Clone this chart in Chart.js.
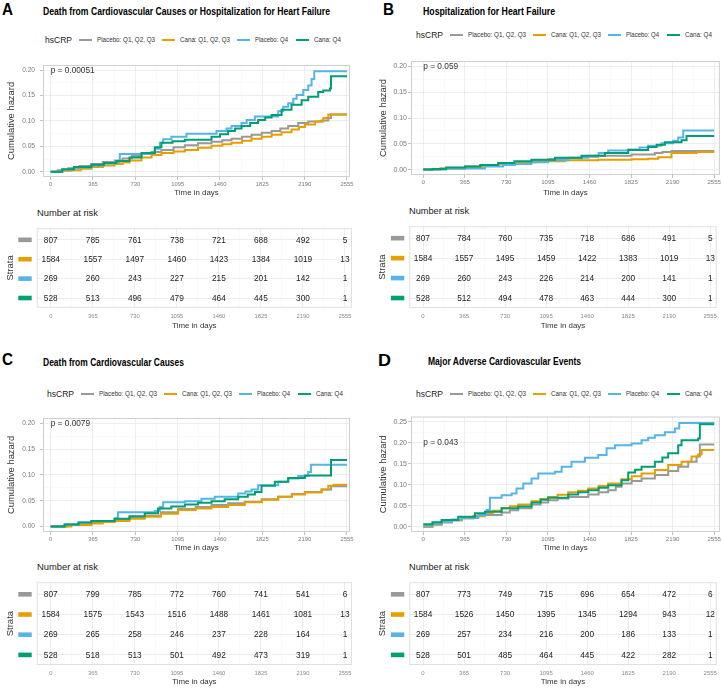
<!DOCTYPE html>
<html>
<head>
<meta charset="utf-8">
<script src="https://cdn.jsdelivr.net/npm/chart.js@4.4.1/dist/chart.umd.min.js"></script>
<style>
    html, body { margin: 0; padding: 0; background: #fff; }
    #fig { position: relative; width: 722px; height: 689px; overflow: hidden; font-family: "Liberation Sans", Arial, sans-serif; }
    #fig canvas { position: absolute; }
    .txt { position: absolute; white-space: nowrap; line-height: 1; transform-origin: 0 50%; }
    .key { position: absolute; height: 2px; }
</style>
</head>
<body>
<div id="fig"></div>
<script>
// ---- data ----
var days = [0, 365, 730, 1095, 1460, 1825, 2190, 2555];
var groups = ['Placebo: Q1, Q2, Q3', 'Cana: Q1, Q2, Q3', 'Placebo: Q4', 'Cana: Q4'];
var groupColors = ['#999999', '#E69F00', '#56B4E9', '#009E73'];
var titles = ['Death from Cardiovascular Causes or Hospitalization for Heart Failure',
              'Hospitalization for Heart Failure',
              'Death from Cardiovascular Causes',
              'Major Adverse Cardiovascular Events'];
var pValues = ['p = 0.00051', 'p = 0.059', 'p = 0.0079', 'p = 0.043'];
var hazTicks = [0, 0.05, 0.1, 0.15, 0.2];
var hazTicksD = [0, 0.05, 0.1, 0.15, 0.2, 0.25];

// cumulative hazard steps [day, hazard]
var aPlaceboLow = [[0,0],[60,0.003],[150,0.007],[250,0.011],[351,0.015],[450,0.019],[552,0.022],[620,0.026],[700,0.031],[783,0.035],[870,0.039],[955,0.043],[1060,0.048],[1157,0.052],[1270,0.056],[1387,0.059],[1480,0.062],[1559,0.065],[1650,0.069],[1732,0.073],[1820,0.077],[1905,0.08],[1980,0.085],[2048,0.09],[2135,0.096],[2221,0.099],[2336,0.101],[2394,0.106],[2417,0.113],[2555,0.113]];
var aCanaLow = [[0,0],[90,0.002],[178,0.003],[260,0.006],[351,0.009],[450,0.012],[552,0.015],[620,0.018],[680,0.022],[783,0.028],[870,0.033],[955,0.037],[1060,0.04],[1157,0.043],[1270,0.047],[1387,0.051],[1480,0.054],[1559,0.057],[1650,0.061],[1732,0.065],[1820,0.069],[1905,0.073],[1990,0.078],[2077,0.083],[2140,0.088],[2192,0.093],[2279,0.099],[2351,0.106],[2394,0.113],[2555,0.113]];
var aPlaceboHigh = [[0,0],[100,0.004],[200,0.008],[351,0.012],[460,0.016],[552,0.019],[596,0.035],[869,0.038],[898,0.045],[941,0.057],[970,0.064],[1041,0.069],[1171,0.075],[1430,0.08],[1516,0.085],[1560,0.09],[1646,0.096],[1690,0.102],[1761,0.109],[1962,0.119],[2005,0.128],[2048,0.135],[2092,0.144],[2121,0.151],[2178,0.161],[2221,0.17],[2250,0.183],[2273,0.198],[2555,0.198]];
var aCanaHigh = [[0,0],[100,0.005],[200,0.009],[351,0.0135],[460,0.017],[567,0.021],[680,0.028],[783,0.037],[898,0.048],[955,0.057],[1050,0.06],[1157,0.063],[1387,0.069],[1460,0.074],[1530,0.08],[1590,0.085],[1646,0.09],[1720,0.096],[1789,0.102],[1850,0.107],[1905,0.112],[1991,0.122],[2077,0.132],[2164,0.141],[2221,0.148],[2307,0.157],[2350,0.16],[2408,0.164],[2417,0.188],[2555,0.188]];

var bPlaceboLow = [[0,0],[150,0.002],[366,0.006],[520,0.009],[658,0.011],[820,0.014],[951,0.018],[1100,0.02],[1244,0.022],[1390,0.025],[1536,0.027],[1829,0.029],[2034,0.032],[2100,0.034],[2180,0.036],[2555,0.036]];
var bCanaLow = [[0,0],[150,0.002],[366,0.005],[520,0.008],[658,0.011],[820,0.014],[1000,0.016],[1244,0.018],[1536,0.019],[1829,0.02],[1975,0.021],[2063,0.024],[2180,0.032],[2400,0.034],[2555,0.034]];
var bPlaceboHigh = [[0,0],[200,0.002],[541,0.006],[700,0.009],[805,0.011],[950,0.014],[1097,0.018],[1273,0.023],[1449,0.027],[1540,0.032],[1624,0.037],[1800,0.039],[1900,0.043],[1975,0.046],[2092,0.051],[2195,0.056],[2239,0.062],[2283,0.076],[2555,0.076]];
var bCanaHigh = [[0,0],[80,0.001],[200,0.004],[366,0.006],[500,0.009],[658,0.013],[800,0.016],[951,0.019],[1156,0.023],[1390,0.027],[1595,0.032],[1800,0.038],[1975,0.044],[2050,0.048],[2122,0.053],[2268,0.057],[2312,0.065],[2555,0.065]];

var cPlaceboLow = [[0,0],[140,0.004],[351,0.008],[450,0.011],[552,0.014],[680,0.018],[811,0.021],[950,0.028],[1099,0.034],[1250,0.038],[1387,0.042],[1530,0.045],[1674,0.048],[1820,0.053],[1962,0.058],[2080,0.063],[2192,0.067],[2336,0.072],[2417,0.078],[2555,0.078]];
var cCanaLow = [[0,0],[178,0.003],[351,0.006],[450,0.009],[552,0.011],[680,0.015],[811,0.019],[950,0.025],[1099,0.032],[1250,0.035],[1387,0.038],[1530,0.042],[1674,0.047],[1820,0.052],[1962,0.058],[2080,0.062],[2192,0.066],[2336,0.072],[2394,0.079],[2440,0.081],[2555,0.081]];
var cPlaceboHigh = [[0,0],[120,0.004],[240,0.008],[351,0.011],[552,0.016],[581,0.028],[898,0.03],[941,0.038],[970,0.047],[1157,0.049],[1300,0.054],[1415,0.058],[1617,0.064],[1680,0.068],[1732,0.072],[1789,0.08],[1962,0.087],[2048,0.093],[2135,0.098],[2221,0.106],[2244,0.12],[2555,0.12]];
var cCanaHigh = [[0,0],[120,0.004],[240,0.008],[351,0.011],[552,0.015],[680,0.02],[811,0.026],[926,0.035],[1040,0.039],[1157,0.043],[1270,0.046],[1387,0.049],[1500,0.053],[1617,0.058],[1700,0.062],[1761,0.067],[1818,0.079],[1933,0.087],[2048,0.094],[2192,0.099],[2417,0.129],[2555,0.129]];

var dPlaceboLow = [[0,0],[80,0.005],[161,0.01],[250,0.015],[337,0.02],[440,0.025],[541,0.028],[688,0.034],[760,0.039],[834,0.044],[951,0.053],[1030,0.058],[1097,0.063],[1180,0.067],[1273,0.071],[1449,0.077],[1540,0.082],[1624,0.087],[1690,0.095],[1741,0.103],[1830,0.109],[1917,0.115],[2034,0.123],[2151,0.133],[2239,0.143],[2327,0.155],[2400,0.167],[2429,0.196],[2555,0.196]];
var dCanaLow = [[0,0],[80,0.006],[161,0.012],[250,0.016],[337,0.02],[440,0.026],[541,0.032],[610,0.038],[688,0.044],[760,0.049],[834,0.053],[951,0.061],[1030,0.066],[1097,0.071],[1180,0.076],[1273,0.082],[1360,0.086],[1449,0.091],[1540,0.097],[1624,0.103],[1741,0.113],[1830,0.12],[1917,0.127],[2034,0.135],[2151,0.147],[2268,0.155],[2356,0.167],[2414,0.172],[2444,0.183],[2555,0.183]];
var dPlaceboHigh = [[0,0.002],[80,0.007],[161,0.012],[250,0.017],[337,0.021],[483,0.028],[556,0.04],[585,0.069],[688,0.075],[776,0.079],[819,0.091],[878,0.103],[951,0.115],[1010,0.127],[1156,0.131],[1215,0.143],[1302,0.155],[1419,0.164],[1536,0.171],[1610,0.187],[1683,0.194],[1829,0.198],[1917,0.206],[1975,0.212],[2034,0.218],[2122,0.225],[2210,0.234],[2248,0.247],[2555,0.247]];
var dCanaHigh = [[0,0.006],[80,0.011],[161,0.016],[307,0.024],[454,0.032],[541,0.036],[688,0.044],[834,0.048],[951,0.058],[1030,0.064],[1097,0.069],[1273,0.077],[1360,0.082],[1449,0.087],[1540,0.093],[1624,0.099],[1741,0.111],[1800,0.129],[1860,0.136],[1917,0.143],[2034,0.155],[2100,0.165],[2151,0.175],[2239,0.194],[2268,0.206],[2414,0.21],[2429,0.244],[2555,0.244]];

// number at risk, rows follow `groups`, columns follow `days`
var riskA = [[807,785,761,738,721,688,492,5],[1584,1557,1497,1460,1423,1384,1019,13],[269,260,243,227,215,201,142,1],[528,513,496,479,464,445,300,1]];
var riskB = [[807,784,760,735,718,686,491,5],[1584,1557,1495,1459,1422,1383,1019,13],[269,260,243,226,214,200,141,1],[528,512,494,478,463,444,300,1]];
var riskC = [[807,799,785,772,760,741,541,6],[1584,1575,1543,1516,1488,1461,1081,13],[269,265,258,246,237,228,164,1],[528,518,513,501,492,473,319,1]];
var riskD = [[807,773,749,715,696,654,472,6],[1584,1526,1450,1395,1345,1294,943,12],[269,257,234,216,200,186,133,1],[528,501,485,464,445,422,282,1]];

// ---- helpers ----
var fig = document.getElementById('fig');
Chart.defaults.font.family = '"Liberation Sans", Arial, sans-serif';
Chart.defaults.animation = false;

var isOn = function(list, v) {
    for (var i = 0; i < list.length; i++)
        if (Math.abs(list[i] - v) < 1e-9) return true;
    return false;
};

// majors plus the ggplot-style minor lines half way between them
var withMinor = function(major) {
    var out = [];
    var step = major[1] - major[0];
    major.forEach(function(m, i) {
        out.push(m);
        if (i < major.length - 1) out.push(m + step / 2);
    });
    return out;
};

var addCanvas = function(g) {
    var c = document.createElement('canvas');
    c.width = g.w; c.height = g.h;
    c.style.left = g.left + 'px'; c.style.top = g.top + 'px';
    fig.appendChild(c);
    return c;
};

var addText = function(str, x, cy, size, w, css) {
    var el = document.createElement('span');
    el.className = 'txt';
    el.textContent = str;
    el.style.cssText += 'left:' + x + 'px;top:' + (cy - size / 2) + 'px;font-size:' + size + 'px;' + (css || '');
    fig.appendChild(el);
    if (w) el.style.transform = 'scaleX(' + (w / el.getBoundingClientRect().width) + ')';
};

var addLegend = function(x, cy) {
    var keyOff = [34, 117, 192, 251], txtOff = [52, 135, 210, 269], txtW = [58, 50, 33, 27];
    addText('hsCRP', x, cy, 8.8, 27, 'color:#222;');
    groups.forEach(function(name, i) {
        var k = document.createElement('div');
        k.className = 'key';
        k.style.cssText += 'left:' + (x + keyOff[i]) + 'px;top:' + (cy - 1) + 'px;width:13px;background:' + groupColors[i] + ';';
        fig.appendChild(k);
        addText(name, x + txtOff[i], cy, 6.6, txtW[i], 'color:#333;');
    });
};

var panelBox = {
    id: 'panelBox',
    afterDraw: function(chart, args, opts) {
        var a = chart.chartArea, ctx = chart.ctx;
        ctx.save();
        ctx.strokeStyle = opts.color || '#cccccc';
        ctx.lineWidth = 1;
        ctx.strokeRect(a.left + 0.5, a.top + 0.5, a.width - 1, a.height - 1);
        ctx.restore();
    }
};

var pLabel = {
    id: 'pLabel',
    afterDatasetsDraw: function(chart, args, opts) {
        var ctx = chart.ctx;
        ctx.save();
        ctx.font = opts.size + 'px "Liberation Sans", Arial, sans-serif';
        ctx.fillStyle = '#333';
        ctx.textAlign = 'left';
        ctx.textBaseline = 'middle';
        ctx.fillText(opts.text, chart.scales.x.getPixelForValue(0), chart.scales.y.getPixelForValue(0.2));
        ctx.restore();
    }
};

var riskCells = {
    id: 'riskCells',
    afterDatasetsDraw: function(chart) {
        var ctx = chart.ctx;
        ctx.save();
        ctx.font = '8.3px "Liberation Sans", Arial, sans-serif';
        ctx.textAlign = 'center';
        ctx.textBaseline = 'middle';
        chart.data.datasets.forEach(function(ds, i) {
            var meta = chart.getDatasetMeta(i);
            var y = chart.scales.y.getPixelForValue(i + 1);
            ctx.fillStyle = groupColors[i];
            ctx.fillRect(chart.chartArea.left - 18.4, y - 2.3, 13.4, 4.6);
            ctx.fillStyle = '#222';
            meta.data.forEach(function(pt, j) {
                ctx.fillText(String(ds.counts[j]), pt.x, pt.y + 0.5);
            });
        });
        ctx.restore();
    }
};

var axisGrid = function(major) {
    return {
        color: function(c) { return c.tick && isOn(major, c.tick.value) ? '#e9e9e9' : '#f4f4f4'; },
        lineWidth: function(c) { return c.tick && isOn(major, c.tick.value) ? 0.8 : 0.5; },
        tickColor: function(c) { return c.tick && isOn(major, c.tick.value) ? '#b0b0b0' : 'rgba(0,0,0,0)'; }
    };
};

var hazardChart = function(g) {
    var grid = withMinor(g.yTicks);
    var xGrid = withMinor(days);
    var xg = axisGrid(days), yg = axisGrid(g.yTicks);
    xg.tickLength = 3; yg.tickLength = 3;
    new Chart(addCanvas(g), {
        type: 'line',
        data: {
            datasets: g.series.map(function(pts, i) {
                return {
                    label: groups[i],
                    data: pts.map(function(p) { return {x: p[0], y: p[1]}; }),
                    borderColor: groupColors[i],
                    borderWidth: 2,
                    stepped: true,
                    pointRadius: 0,
                    fill: false,
                    order: 3 - i
                };
            })
        },
        options: {
            responsive: false,
            animation: false,
            layout: {padding: {top: g.padTop, right: g.padRight, left: 0, bottom: 0}},
            plugins: {
                legend: {display: false},
                tooltip: {enabled: false},
                pLabel: {text: g.p, size: 8.3},
                panelBox: {color: '#cfcfcf'}
            },
            scales: {
                x: {
                    type: 'linear', min: g.xMin, max: g.xMax,
                    afterBuildTicks: function(s) { s.ticks = xGrid.map(function(v) { return {value: v}; }); },
                    afterFit: function(s) { s.height = g.xH; },
                    ticks: {
                        autoSkip: false, maxRotation: 0, padding: 1, color: '#7a7a7a',
                        font: {size: g.xFont},
                        callback: function(v) { return isOn(days, v) ? String(v) : ''; }
                    },
                    grid: xg,
                    border: {display: false},
                    title: {display: true, text: 'Time in days', color: '#333', font: {size: 7.9}, padding: {top: 0, bottom: g.xTitlePad}}
                },
                y: {
                    type: 'linear', min: g.yMin, max: g.yMax,
                    afterBuildTicks: function(s) { s.ticks = grid.map(function(v) { return {value: v}; }); },
                    afterFit: function(s) { s.width = g.yW; },
                    ticks: {
                        autoSkip: false, padding: g.yTickPad, color: '#7a7a7a',
                        font: {size: g.yFont},
                        callback: function(v) { return isOn(g.yTicks, v) ? v.toFixed(2) : ''; }
                    },
                    grid: yg,
                    border: {display: false},
                    title: {display: true, text: 'Cumulative hazard', color: '#333', font: {size: 9.4}, padding: {top: g.yTitlePad, bottom: 0}}
                }
            }
        },
        plugins: [panelBox, pLabel]
    });
};

var riskTable = function(g) {
    var rows = [1, 2, 3, 4];
    var xGrid = withMinor(days);
    var xg = axisGrid(days), yg = axisGrid(rows);
    xg.drawTicks = false; yg.drawTicks = false;
    new Chart(addCanvas(g), {
        type: 'scatter',
        data: {
            datasets: g.risk.map(function(counts, i) {
                return {
                    label: groups[i],
                    counts: counts,
                    data: days.map(function(d) { return {x: d, y: i + 1}; }),
                    pointRadius: 0,
                    showLine: false
                };
            })
        },
        options: {
            responsive: false,
            animation: false,
            layout: {padding: {top: g.padTop, right: g.padRight, left: 0, bottom: 0}},
            plugins: {legend: {display: false}, tooltip: {enabled: false}, panelBox: {color: '#e0e0e0'}},
            scales: {
                x: {
                    type: 'linear', min: g.xMin, max: g.xMax,
                    afterBuildTicks: function(s) { s.ticks = xGrid.map(function(v) { return {value: v}; }); },
                    afterFit: function(s) { s.height = g.xH; },
                    ticks: {
                        autoSkip: false, maxRotation: 0, padding: 5, color: '#8a8a8a',
                        font: {size: g.xFont},
                        callback: function(v) { return isOn(days, v) ? String(v) : ''; }
                    },
                    grid: xg,
                    border: {display: false},
                    title: {display: true, text: 'Time in days', color: '#333', font: {size: 7.9}, padding: {top: 0, bottom: g.xTitlePad}}
                },
                y: {
                    type: 'linear', min: 0.4, max: 4.5, reverse: true,
                    afterBuildTicks: function(s) { s.ticks = [1, 1.5, 2, 2.5, 3, 3.5, 4].map(function(v) { return {value: v}; }); },
                    afterFit: function(s) { s.width = g.yW; },
                    ticks: {callback: function() { return ''; }},
                    grid: yg,
                    border: {display: false},
                    title: {display: true, text: 'Strata', color: '#333', font: {size: 9.5}, padding: {top: g.yTitlePad, bottom: 0}}
                }
            }
        },
        plugins: [panelBox, riskCells]
    });
};

// ---- panels ----
var leftPanel = {w: 361, padRight: 11, yW: 43, xMin: -66, xMax: 2581, yTitlePad: 6, yTickPad: 5, xFont: 5.8, yFont: 6.6};
var rightPanel = {w: 361, padRight: 2, yW: 50, xMin: -108, xMax: 2605, yTitlePad: 17, yTickPad: 1, xFont: 6.1, yFont: 7.0};
var merge = function(a, b) { var o = {}; for (var k in a) o[k] = a[k]; for (var k2 in b) o[k2] = b[k2]; return o; };

hazardChart(merge(leftPanel, {left: 0, top: 56, h: 146, padTop: 7, xH: 25, xTitlePad: 4.3, yMin: -0.0105, yMax: 0.2105, yTicks: hazTicks, p: pValues[0],
    series: [aPlaceboLow, aCanaLow, aPlaceboHigh, aCanaHigh]}));
hazardChart(merge(rightPanel, {left: 361, top: 52, h: 150, padTop: 9, xH: 27, xTitlePad: 4.6, yMin: -0.0105, yMax: 0.2105, yTicks: hazTicks, p: pValues[1],
    series: [bPlaceboLow, bCanaLow, bPlaceboHigh, bCanaHigh]}));
hazardChart(merge(leftPanel, {left: 0, top: 409, h: 148, padTop: 8, xH: 25, xTitlePad: 4.3, yMin: -0.0105, yMax: 0.2105, yTicks: hazTicks, p: pValues[2],
    series: [cPlaceboLow, cCanaLow, cPlaceboHigh, cCanaHigh]}));
hazardChart(merge(rightPanel, {left: 361, top: 409, h: 148, padTop: 7.5, xH: 25, xTitlePad: 4.3, yMin: -0.0125, yMax: 0.2625, yTicks: hazTicksD, p: pValues[3],
    series: [dPlaceboLow, dCanaLow, dPlaceboHigh, dCanaHigh]}));

var leftTable = {w: 361, padRight: 9, yW: 36.7, xMin: -122, xMax: 2616, yTitlePad: 5, xFont: 5.8};
var rightTable = {w: 361, padRight: 2.7, yW: 48.3, xMin: -122, xMax: 2612, yTitlePad: 16, xFont: 6.0};
riskTable(merge(leftTable, {left: 0, top: 218, h: 114, padTop: 4.7, xH: 24.3, xTitlePad: 1.3, risk: riskA}));
riskTable(merge(rightTable, {left: 361, top: 216, h: 116, padTop: 5.7, xH: 24, xTitlePad: 1.3, risk: riskB}));
riskTable(merge(leftTable, {left: 0, top: 572, h: 117, padTop: 5.5, xH: 24, xTitlePad: 2.6, risk: riskC}));
riskTable(merge(rightTable, {left: 361, top: 572, h: 117, padTop: 5.5, xH: 24, xTitlePad: 2.6, risk: riskD}));

// ---- text around the plots ----
var bold = 'font-weight:bold;color:#000;';
addText('A', 2, 10, 16, 11, bold);
addText('B', 383, 10, 16, 11, bold);
addText('C', 2, 360, 16, 11, bold);
addText('D', 378, 361, 16, 13, bold);
addText(titles[0], 43, 11, 10.5, 287, bold);
addText(titles[1], 423, 11, 10.5, 132, bold);
addText(titles[2], 43, 362.7, 10.5, 141, bold);
addText(titles[3], 428, 361, 10.5, 153, bold);
addLegend(45, 40);
addLegend(416, 35);
addLegend(46.7, 394);
addLegend(416, 394);
addText('Number at risk', 36.7, 212.7, 9.6, 61, 'color:#222;');
addText('Number at risk', 409, 210.7, 9.6, 60, 'color:#222;');
addText('Number at risk', 36.7, 566.7, 9.6, 61, 'color:#222;');
addText('Number at risk', 409, 566.7, 9.6, 60, 'color:#222;');
</script>
</body>
</html>
